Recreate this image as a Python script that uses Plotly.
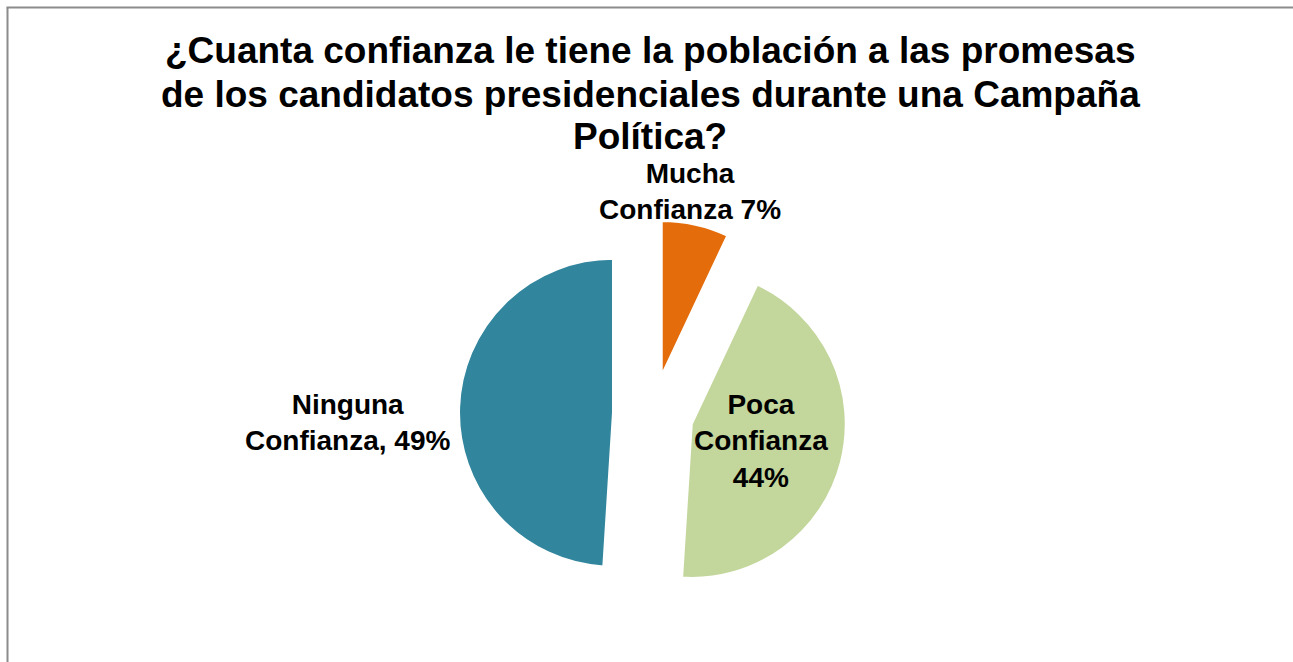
import plotly.graph_objects as go

# Survey data
categories = ["Mucha Confianza", "Poca Confianza", "Ninguna Confianza"]
values = [7, 44, 49]
colors = ["#E46C0A", "#C3D69B", "#31859C"]
title_lines = [
    "¿Cuanta confianza le tiene la población a las promesas",
    "de los candidatos presidenciales durante una Campaña",
    "Política?",
]

W, H = 1293, 662
FONT = "Liberation Sans, Arial, sans-serif"


def px_x(x):
    return x / W


def px_y(y):
    return 1 - y / H


# Pie geometry in pixels: centre and half-size of the domain
cx, cy, half = 653, 414, 194
pulls = [0.26, 0.26, 0.26]

fig = go.Figure(
    go.Pie(
        labels=categories,
        values=values,
        sort=False,
        direction="clockwise",
        rotation=0,
        pull=pulls,
        textinfo="none",
        hoverinfo="label+percent",
        marker=dict(colors=colors, line=dict(color="white", width=2)),
        showlegend=False,
        domain=dict(
            x=[px_x(cx - 260), px_x(cx + 260)],
            y=[px_y(cy + half), px_y(cy - half)],
        ),
    )
)

annotations = []

# Title, one annotation per line
for text, y in zip(title_lines, [51, 94, 136]):
    annotations.append(dict(
        text=f"<b>{text}</b>", x=px_x(650), y=px_y(y),
        xref="paper", yref="paper", xanchor="center", yanchor="middle",
        showarrow=False, font=dict(family=FONT, size=37, color="black"),
    ))

# Slice labels built from the data
total = sum(values)
pct = [round(v * 100 / total) for v in values]
label_texts = [
    f"Mucha<br>Confianza {pct[0]}%",
    f"Poca<br>Confianza<br>{pct[1]}%",
    f"Ninguna<br>Confianza, {pct[2]}%",
]
label_pos = [(690, 191), (761, 441), (347, 423)]
for text, (x, y) in zip(label_texts, label_pos):
    annotations.append(dict(
        text=f"<b>{text}</b>", x=px_x(x), y=px_y(y),
        xref="paper", yref="paper", xanchor="center", yanchor="middle",
        showarrow=False, align="center",
        font=dict(family=FONT, size=28, color="black"),
    ))

# Chart frame border (runs off the right and bottom edges)
shapes = [
    dict(type="line", xref="paper", yref="paper",
         x0=px_x(7.5), x1=px_x(7.5), y0=px_y(H + 5), y1=px_y(7.5),
         line=dict(color="#8C8C8C", width=2)),
    dict(type="line", xref="paper", yref="paper",
         x0=px_x(6.5), x1=px_x(W + 5), y0=px_y(7.5), y1=px_y(7.5),
         line=dict(color="#8C8C8C", width=2)),
]

fig.update_layout(
    width=W, height=H,
    margin=dict(l=0, r=0, t=0, b=0),
    paper_bgcolor="white",
    plot_bgcolor="white",
    annotations=annotations,
    shapes=shapes,
)

fig.write_html("out.html")
